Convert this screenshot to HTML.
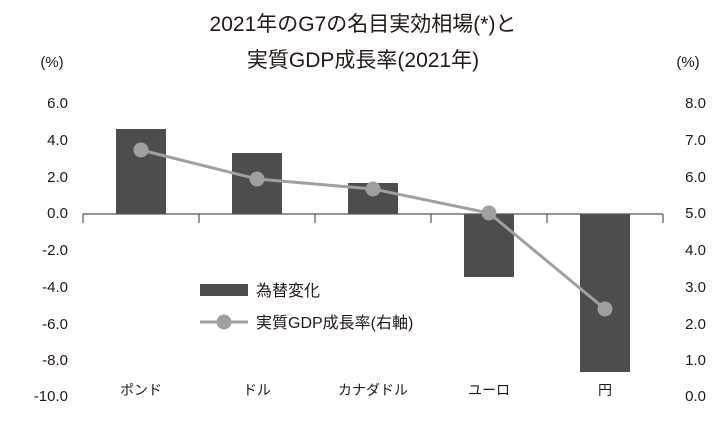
<!DOCTYPE html>
<html><head><meta charset="utf-8"><style>
body{margin:0;background:#fff}
svg text{font-family:"Liberation Sans","Noto Sans CJK JP",sans-serif;fill:#231815}
</style></head><body>
<svg width="726" height="433" viewBox="0 0 726 433">
<text x="363" y="31" font-size="21" text-anchor="middle">2021年のG7の名目実効相場(*)と</text>
<text x="363" y="67" font-size="21" text-anchor="middle">実質GDP成長率(2021年)</text>
<text x="52" y="67" font-size="15" text-anchor="middle">(%)</text>
<text x="688" y="67" font-size="15" text-anchor="middle">(%)</text>
<g font-size="15" text-anchor="end">
<text x="68" y="108">6.0</text><text x="68" y="145">4.0</text><text x="68" y="182">2.0</text><text x="68" y="218">0.0</text>
<text x="68" y="255">-2.0</text><text x="68" y="292">-4.0</text><text x="68" y="329">-6.0</text><text x="68" y="365">-8.0</text><text x="68" y="401">-10.0</text>
</g>
<g font-size="15" text-anchor="end">
<text x="706" y="108">8.0</text><text x="706" y="145">7.0</text><text x="706" y="182">6.0</text><text x="706" y="218">5.0</text>
<text x="706" y="255">4.0</text><text x="706" y="292">3.0</text><text x="706" y="329">2.0</text><text x="706" y="365">1.0</text><text x="706" y="401">0.0</text>
</g>
<g fill="#4d4d4d">
<rect x="116" y="129" width="50" height="85"/>
<rect x="232" y="153" width="50" height="61"/>
<rect x="348" y="183" width="50" height="31"/>
<rect x="464" y="214" width="50" height="63"/>
<rect x="580" y="214" width="50" height="158"/>
</g>
<g stroke="#555" stroke-width="1.2">
<line x1="83" y1="214" x2="663" y2="214"/>
<line x1="83" y1="214" x2="83" y2="223"/><line x1="199" y1="214" x2="199" y2="223"/>
<line x1="315" y1="214" x2="315" y2="223"/><line x1="431" y1="214" x2="431" y2="223"/>
<line x1="547" y1="214" x2="547" y2="223"/><line x1="663" y1="214" x2="663" y2="223"/>
</g>
<polyline points="141,150 257,179 373,189 489,213 605,309" fill="none" stroke="#a0a0a0" stroke-width="3"/>
<g fill="#a0a0a0">
<circle cx="141" cy="150" r="7.5"/><circle cx="257" cy="179" r="7.5"/><circle cx="373" cy="189" r="7.5"/><circle cx="489" cy="213" r="7.5"/><circle cx="605" cy="309" r="7.5"/>
</g>
<rect x="200" y="284" width="48" height="12" fill="#4d4d4d"/>
<text x="256" y="296" font-size="16">為替変化</text>
<line x1="200" y1="322" x2="248" y2="322" stroke="#a0a0a0" stroke-width="3"/>
<circle cx="224" cy="322" r="7.5" fill="#a0a0a0"/>
<text x="256" y="328" font-size="16">実質GDP成長率(右軸)</text>
<g font-size="14" text-anchor="middle">
<text x="141" y="395">ポンド</text><text x="257" y="395">ドル</text><text x="373" y="395">カナダドル</text><text x="489" y="395">ユーロ</text><text x="605" y="395">円</text>
</g>
</svg>
</body></html>
